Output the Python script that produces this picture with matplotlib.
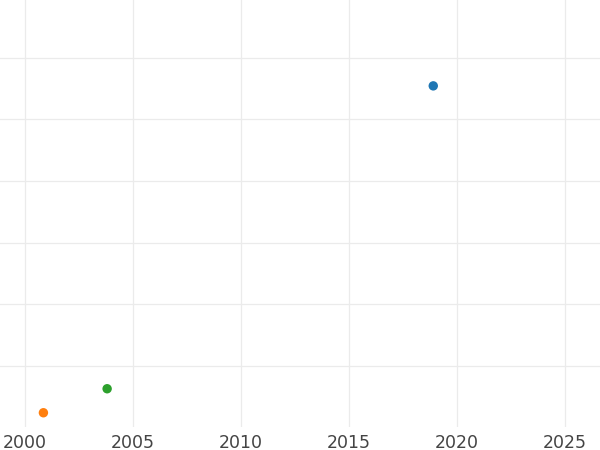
import matplotlib
matplotlib.use("Agg")
import matplotlib.pyplot as plt

# Data (years and relative values)
years = [2018.9, 2000.85, 2003.8]
values = [5.545, 0.235, 0.625]
colors = ["#1f77b4", "#ff7f0e", "#2ca02c"]

x_ticks = [2000, 2005, 2010, 2015, 2020, 2025]
y_ticks = [1, 2, 3, 4, 5, 6]

fig = plt.figure(figsize=(6, 4.5), dpi=100)
ax = fig.add_axes([0, 0.052, 1, 0.948])

ax.scatter(years, values, c=colors, s=46, zorder=3, linewidths=0)

ax.set_xlim(1998.84, 2026.62)
ax.set_ylim(0.01, 6.94)
ax.set_xticks(x_ticks)
ax.set_xticklabels([str(t) for t in x_ticks])
ax.set_yticks(y_ticks)
ax.set_yticklabels([])
ax.tick_params(axis="both", length=0)
ax.tick_params(axis="x", labelsize=12.5, labelcolor="#444444", pad=5)
ax.grid(True, color="#ebebeb", linewidth=0.9)
ax.set_axisbelow(True)
for s in ax.spines.values():
    s.set_visible(False)

fig.savefig("out.png", dpi=100)
